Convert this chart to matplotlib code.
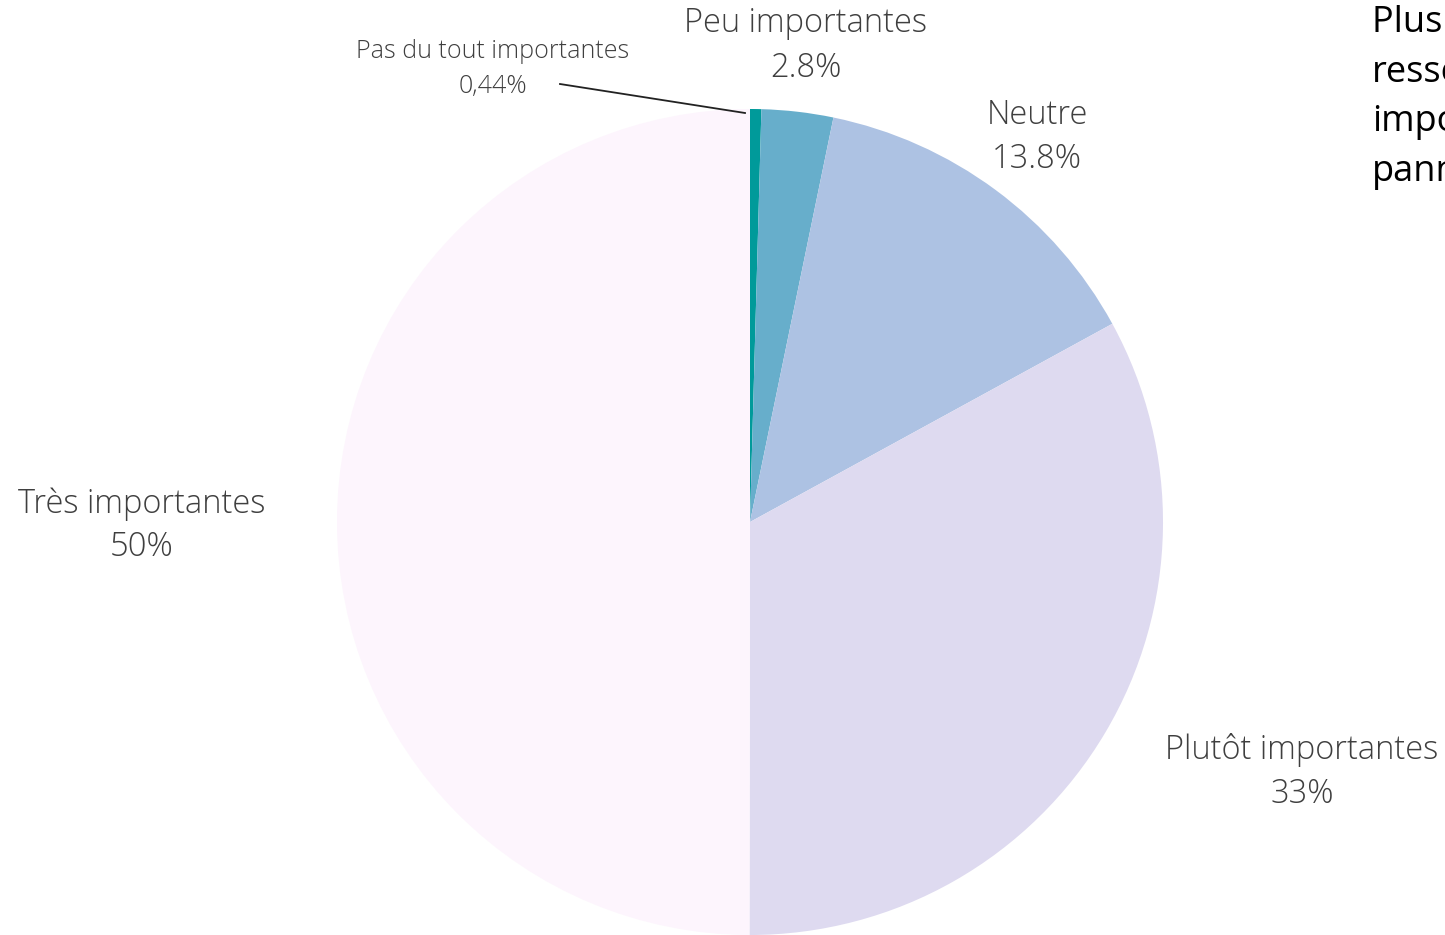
import matplotlib
matplotlib.use("Agg")
import matplotlib.pyplot as plt

labels = ["Pas du tout importantes", "Peu importantes", "Neutre", "Plutôt importantes", "Très importantes"]
values = [0.44, 2.8, 13.8, 33, 50]
value_labels = ["0,44%", "2.8%", "13.8%", "33%", "50%"]
colors = ["#009a9a", "#67aecb", "#adc2e3", "#dedaf0", "#fdf5fd"]

W, H = 1445, 935
fig = plt.figure(figsize=(W / 100, H / 100), dpi=100)
ax = fig.add_axes([0, 0, 1, 1])

def py(y):
    return H - y

cx, cy, r = 750, 522, 413
ax.pie(values, colors=colors, startangle=90, counterclock=False,
       center=(cx, py(cy)), radius=r, frame=True,
       wedgeprops=dict(linewidth=0))
ax.set_xlim(0, W)
ax.set_ylim(0, H)
ax.axis("off")

fam = ["Open Sans", "DejaVu Sans"]
tc = "#3f3f3f"
# label positions (pixel coords of centre of name line / value line, font size)
pos = {
    0: (493, 51, 86, 18),
    1: (806, 23, 68, 23.5),
    2: (1037, 115, 159, 23.5),
    3: (1302, 750, 794, 23.5),
    4: (142, 504, 547, 23.5),
}
for i, (x, y1, y2, fs) in pos.items():
    ax.text(x, py(y1), labels[i], ha="center", va="center", fontsize=fs,
            color=tc, family=fam, fontweight="light")
    ax.text(x, py(y2), value_labels[i], ha="center", va="center", fontsize=fs,
            color=tc, family=fam, fontweight="light")

ax.plot([560, 745], [py(84), py(113)], color="#222222", linewidth=1.3)

side_lines = ["Plus de la moitié", "ressentent", "importantes", "panneaux"]
for k, s in enumerate(side_lines):
    ax.text(1372, py(32 + k * 49.7), s, ha="left", va="baseline", fontsize=26,
            color="#000000", family=["Open Sans", "DejaVu Sans"])

fig.savefig("out.png", dpi=100)
